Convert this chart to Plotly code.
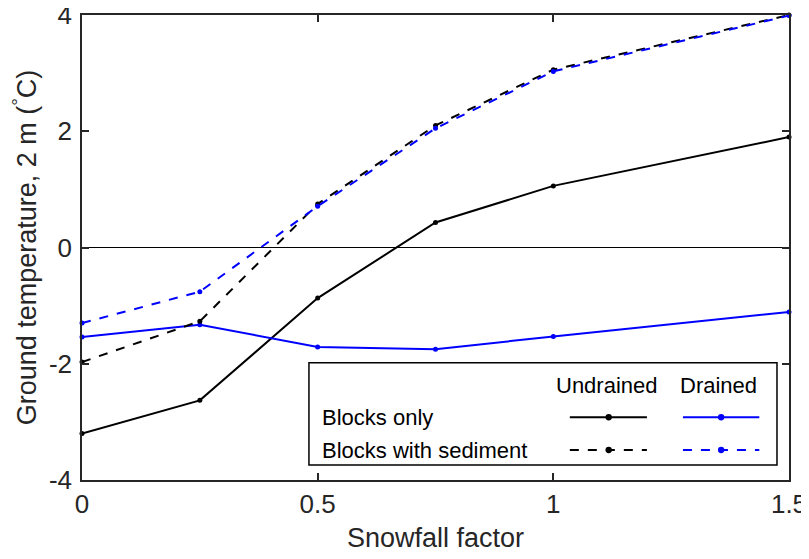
import plotly.graph_objects as go

snowfall = [0, 0.25, 0.5, 0.75, 1.0, 1.5]
undrained_blocks = [-3.20, -2.63, -0.87, 0.43, 1.06, 1.90]
drained_blocks = [-1.54, -1.33, -1.71, -1.75, -1.53, -1.11]
undrained_sed = [-1.97, -1.27, 0.75, 2.10, 3.06, 4.00]
drained_sed = [-1.30, -0.76, 0.71, 2.05, 3.03, 3.99]

y_ticks = [-4, -2, 0, 2, 4]
y_tick_text = ["-4", "-2", "0", "2", "4"]
x_ticks = [0, 0.5, 1, 1.5]
x_tick_text = ["0", "0.5", "1", "1.5"]

FONT = "Liberation Sans, Arial, sans-serif"
BLUE = "#0000ff"
BLACK = "#000000"
AX = "#262626"

fig = go.Figure()
series = [
    (undrained_blocks, BLACK, "solid"),
    (drained_blocks, BLUE, "solid"),
    (undrained_sed, BLACK, "dash"),
    (drained_sed, BLUE, "dash"),
]
for ys, col, dash in series:
    fig.add_trace(go.Scatter(
        x=snowfall, y=ys, mode="lines+markers",
        line=dict(color=col, width=2, dash=dash),
        marker=dict(color=col, size=5),
        showlegend=False, cliponaxis=False,
    ))

# zero reference line
fig.add_shape(type="line", xref="paper", yref="y", x0=0, x1=1, y0=0, y1=0,
              line=dict(color=BLACK, width=1.2), layer="below")

# legend box
fig.add_shape(type="rect", xref="paper", yref="paper", x0=0.321, x1=0.983,
              y0=0.032, y1=0.252, line=dict(color=BLACK, width=1.5),
              fillcolor="white", layer="above")

ann = [
    ("Undrained", 0.743, 0.204, "center"),
    ("Drained", 0.900, 0.204, "center"),
    ("Blocks only", 0.337, 0.135, "left"),
    ("Blocks with sediment", 0.337, 0.0645, "left"),
]
for txt, x, y, xa in ann:
    fig.add_annotation(text=txt, x=x, y=y, xref="paper", yref="paper",
                       xanchor=xa, yanchor="middle", showarrow=False,
                       font=dict(family=FONT, size=22, color=BLACK))

samples = [
    (0.690, 0.799, 0.745, 0.135, BLACK, "solid"),
    (0.850, 0.958, 0.904, 0.135, BLUE, "solid"),
    (0.690, 0.799, 0.745, 0.0645, BLACK, "dash"),
    (0.850, 0.958, 0.904, 0.0645, BLUE, "dash"),
]
for x0, x1, xm, y, col, dash in samples:
    fig.add_shape(type="line", xref="paper", yref="paper", x0=x0, x1=x1,
                  y0=y, y1=y, line=dict(color=col, width=2, dash=dash),
                  layer="above")
    fig.add_shape(type="circle", xref="paper", yref="paper",
                  x0=xm - 0.0045, x1=xm + 0.0045, y0=y - 0.0068, y1=y + 0.0068,
                  fillcolor=col, line=dict(color=col, width=0), layer="above")

axis_common = dict(
    showgrid=False, zeroline=False, showline=True, linecolor=AX,
    linewidth=1.5, mirror="ticks", ticks="inside", ticklen=7, tickwidth=1.5,
    tickcolor=AX, tickfont=dict(family=FONT, size=26, color=AX),
    automargin=False, ticklabeloverflow="allow",
)
fig.update_xaxes(range=[0, 1.5], tickvals=x_ticks, ticktext=x_tick_text,
                 ticklabelstandoff=0,
                 title=dict(text="Snowfall factor", font=dict(family=FONT, size=27, color=AX),
                            standoff=10),
                 **axis_common)
fig.update_yaxes(range=[-4, 4], tickvals=y_ticks, ticktext=y_tick_text,
                 ticklabelstandoff=3,
                 title=dict(text="Ground temperature, 2 m (<sup>°</sup>C)",
                            font=dict(family=FONT, size=27, color=AX), standoff=4),
                 **axis_common)

# The page body adds an 8px offset; size the figure to fill the 809x559 window.
fig.update_layout(
    width=801, height=551,
    margin=dict(l=74, r=20, t=7, b=79),
    plot_bgcolor="white", paper_bgcolor="white",
    font=dict(family=FONT),
)

fig.write_html("out.html")
